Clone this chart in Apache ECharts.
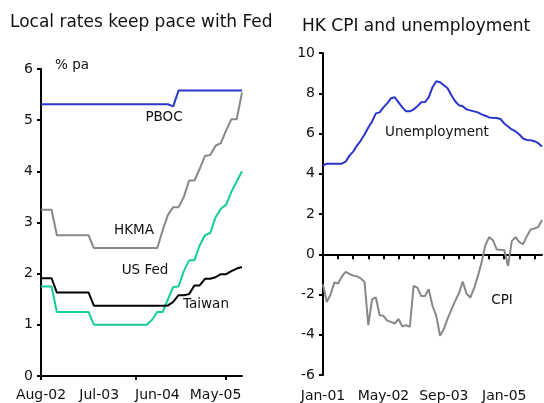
<!DOCTYPE html>
<html>
<head>
<meta charset="utf-8">
<script src="https://cdn.jsdelivr.net/npm/echarts@6/dist/echarts.min.js"></script>
<style>
  html, body { margin: 0; padding: 0; background: #fff; }
  #chart { width: 544px; height: 403px; }
</style>
</head>
<body>
<div id="chart"></div>
<script>
// ---- left panel: policy rates, monthly Aug-02 .. Oct-05 ----
const rateMonths = [
  'Aug-02','Sep-02','Oct-02','Nov-02','Dec-02','Jan-03','Feb-03','Mar-03','Apr-03','May-03',
  'Jun-03','Jul-03','Aug-03','Sep-03','Oct-03','Nov-03','Dec-03','Jan-04','Feb-04','Mar-04',
  'Apr-04','May-04','Jun-04','Jul-04','Aug-04','Sep-04','Oct-04','Nov-04','Dec-04','Jan-05',
  'Feb-05','Mar-05','Apr-05','May-05','Jun-05','Jul-05','Aug-05','Sep-05','Oct-05'
];
const pboc = [
  5.31,5.31,5.31,5.31,5.31,5.31,5.31,5.31,5.31,5.31,
  5.31,5.31,5.31,5.31,5.31,5.31,5.31,5.31,5.31,5.31,
  5.31,5.31,5.31,5.31,5.31,5.27,5.58,5.58,5.58,5.58,
  5.58,5.58,5.58,5.58,5.58,5.58,5.58,5.58,5.58
];
const hkma = [
  3.25,3.25,3.25,2.75,2.75,2.75,2.75,2.75,2.75,2.75,
  2.5,2.5,2.5,2.5,2.5,2.5,2.5,2.5,2.5,2.5,
  2.5,2.5,2.5,2.85,3.15,3.3,3.3,3.5,3.82,3.82,
  4.05,4.3,4.32,4.5,4.55,4.8,5.02,5.02,5.54
];
const usFed = [
  1.75,1.75,1.75,1.25,1.25,1.25,1.25,1.25,1.25,1.25,
  1.0,1.0,1.0,1.0,1.0,1.0,1.0,1.0,1.0,1.0,
  1.0,1.1,1.25,1.25,1.5,1.74,1.75,2.05,2.26,2.26,
  2.55,2.75,2.8,3.1,3.27,3.35,3.6,3.8,4.0
];
const taiwan = [
  1.91,1.91,1.91,1.63,1.63,1.63,1.63,1.63,1.63,1.63,
  1.375,1.375,1.375,1.375,1.375,1.375,1.375,1.375,1.375,1.375,
  1.375,1.375,1.375,1.375,1.38,1.45,1.58,1.58,1.6,1.77,
  1.77,1.9,1.9,1.93,1.99,1.99,2.05,2.1,2.13
];
const rateTickIdx = [0, 18, 35];

// ---- right panel: HK CPI and unemployment, monthly Jan-01 .. Nov-05 ----
const hkMonths = [
  'Jan-01','Feb-01','Mar-01','Apr-01','May-01','Jun-01','Jul-01','Aug-01','Sep-01','Oct-01','Nov-01','Dec-01',
  'Jan-02','Feb-02','Mar-02','Apr-02','May-02','Jun-02','Jul-02','Aug-02','Sep-02','Oct-02','Nov-02','Dec-02',
  'Jan-03','Feb-03','Mar-03','Apr-03','May-03','Jun-03','Jul-03','Aug-03','Sep-03','Oct-03','Nov-03','Dec-03',
  'Jan-04','Feb-04','Mar-04','Apr-04','May-04','Jun-04','Jul-04','Aug-04','Sep-04','Oct-04','Nov-04','Dec-04',
  'Jan-05','Feb-05','Mar-05','Apr-05','May-05','Jun-05','Jul-05','Aug-05','Sep-05','Oct-05','Nov-05'
];
const unemployment = [
  4.4,4.5,4.5,4.5,4.5,4.5,4.6,4.9,5.1,5.4,5.65,5.95,
  6.3,6.6,7.0,7.05,7.3,7.5,7.75,7.8,7.55,7.3,7.1,7.1,
  7.2,7.35,7.55,7.56,7.8,8.3,8.6,8.55,8.4,8.25,7.9,7.6,
  7.4,7.35,7.2,7.15,7.1,7.05,6.95,6.88,6.8,6.78,6.77,6.72,
  6.5,6.35,6.2,6.1,5.95,5.75,5.68,5.66,5.62,5.52,5.35
];
const cpi = [
  -1.5,-2.37,-2.0,-1.4,-1.45,-1.1,-0.88,-0.98,-1.06,-1.1,-1.2,-1.38,
  -3.52,-2.23,-2.15,-3.03,-3.06,-3.3,-3.36,-3.44,-3.22,-3.59,-3.52,-3.61,
  -1.57,-1.66,-2.07,-2.07,-1.74,-2.56,-3.06,-4.05,-3.72,-3.2,-2.75,-2.32,
  -1.94,-1.36,-1.95,-2.15,-1.7,-1.1,-0.4,0.45,0.85,0.7,0.24,0.22,
  0.21,-0.58,0.65,0.85,0.6,0.5,0.9,1.23,1.28,1.35,1.7
];

const FONT = 'DejaVu Sans';
const INK = '#111';
const BLUE = '#2b35cc';
const GREY = '#888888';
const TEAL = '#14cc99';

const chart = echarts.init(document.getElementById('chart'));

const axisLine = { show: true, onZero: false, lineStyle: { color: '#000', width: 2 } };
const axisTick = { show: true, length: 4, lineStyle: { color: '#000', width: 2 } };
const axisLabel = { color: INK, fontFamily: FONT, fontSize: 14 };

function lineSeries(name, data, color, xi, yi) {
  return {
    name, type: 'line', data,
    xAxisIndex: xi, yAxisIndex: yi,
    showSymbol: false, symbol: 'none',
    lineStyle: { color, width: 2 },
    animation: false
  };
}

function label(text, x, y) {
  return {
    type: 'text',
    style: {
      text, x, y,
      align: 'center', verticalAlign: 'middle',
      font: '13.5px "' + FONT + '"',
      fill: INK
    }
  };
}

chart.setOption({
  backgroundColor: '#fff',
  animation: false,
  title: [
    { text: 'Local rates keep pace with Fed', left: 5, top: 9,
      textStyle: { fontFamily: FONT, fontSize: 17, fontWeight: 'normal', color: INK } },
    { text: 'HK CPI and unemployment', left: 297, top: 13,
      textStyle: { fontFamily: FONT, fontSize: 17, fontWeight: 'normal', color: INK } }
  ],
  grid: [
    { left: 41, right: 302, top: 69, bottom: 27 },
    { left: 323, right: 2, top: 53, bottom: 27 }
  ],
  xAxis: [
    {
      type: 'category', gridIndex: 0, data: rateMonths, boundaryGap: false,
      axisLine,
      axisTick: { ...axisTick, interval: (i) => rateTickIdx.includes(i) },
      axisLabel: { ...axisLabel, interval: 10, margin: 12 },
      splitLine: { show: false }
    },
    {
      type: 'category', gridIndex: 1, data: hkMonths, boundaryGap: false,
      axisLine: { ...axisLine, onZero: true },
      axisTick: { ...axisTick, length: 5, interval: 3 },
      axisLabel: { show: false },
      splitLine: { show: false }
    },
    {
      type: 'category', gridIndex: 1, data: hkMonths, boundaryGap: false,
      position: 'bottom',
      axisLine: { show: false, onZero: false },
      axisTick: { show: false },
      axisLabel: { ...axisLabel, interval: 15, margin: 14 },
      splitLine: { show: false }
    }
  ],
  yAxis: [
    {
      type: 'value', gridIndex: 0, min: 0, max: 6, interval: 1,
      axisLine, axisTick,
      axisLabel: { ...axisLabel, margin: 8 },
      splitLine: { show: false }
    },
    {
      type: 'value', gridIndex: 1, min: -6, max: 10, interval: 2,
      axisLine, axisTick,
      axisLabel: { ...axisLabel, margin: 8 },
      splitLine: { show: false }
    }
  ],
  series: [
    lineSeries('PBOC', pboc, BLUE, 0, 0),
    lineSeries('HKMA', hkma, GREY, 0, 0),
    lineSeries('US Fed', usFed, TEAL, 0, 0),
    lineSeries('Taiwan', taiwan, '#000', 0, 0),
    lineSeries('Unemployment', unemployment, BLUE, 1, 1),
    lineSeries('CPI', cpi, GREY, 2, 1)
  ],
  graphic: [
    label('% pa', 72, 65),
    label('PBOC', 164, 117),
    label('HKMA', 134, 230),
    label('US Fed', 145, 270),
    label('Taiwan', 206, 304),
    label('Unemployment', 437, 132),
    label('CPI', 502, 300)
  ]
});
</script>
</body>
</html>
